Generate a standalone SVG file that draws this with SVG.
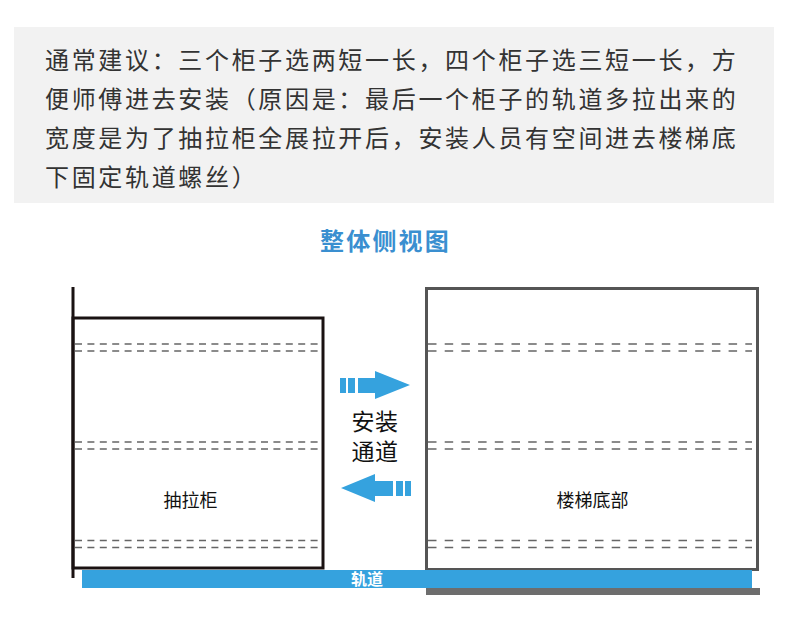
<svg xmlns="http://www.w3.org/2000/svg" width="790" height="632" viewBox="0 0 790 632">
<style>
text{font-family:"Liberation Sans","Noto Sans CJK SC",sans-serif}
.body{font-size:24px;fill:#333;letter-spacing:2.67px}
.title{font-size:24px;fill:#3a8fd0;font-weight:700;letter-spacing:2.2px;text-anchor:middle}
.label{font-size:18px;fill:#111;text-anchor:middle}
.chan{font-size:23px;fill:#111;text-anchor:middle;letter-spacing:0.5px}
.dashl{stroke:#666;stroke-width:1.5;stroke-dasharray:7 5.4;fill:none}
.dashr{stroke:#666;stroke-width:1.5;stroke-dasharray:8.5 8.2;fill:none}
.arrow{fill:#35a2de}
</style>
<defs>
<g id="dashes-l"><path class="dashl" d="M75 0H319M75 7H319"/></g>
<g id="dashes-r"><path class="dashr" d="M428 0H752M428 7H752"/></g>
</defs>
<g id="note">
<rect x="14" y="27" width="760" height="176" fill="#f2f2f2"/>
<text class="body" x="45" y="69">通常建议：三个柜子选两短一长，四个柜子选三短一长，方</text>
<text class="body" x="45" y="108">便师傅进去安装（原因是：最后一个柜子的轨道多拉出来的</text>
<text class="body" x="45" y="147">宽度是为了抽拉柜全展拉开后，安装人员有空间进去楼梯底</text>
<text class="body" x="45" y="186">下固定轨道螺丝）</text>
</g>
<text class="title" x="385.500" y="250">整体侧视图</text>
<g id="drawer">
<rect x="73" y="318" width="250" height="250" fill="#fff" stroke="#1a1212" stroke-width="3"/>
<path d="M73 287V578" stroke="#1a1212" stroke-width="3" fill="none"/>
<use href="#dashes-l" y="344"/>
<use href="#dashes-l" y="442"/>
<use href="#dashes-l" y="540.500"/>
<text class="label" x="190.500" y="506.500">抽拉柜</text>
</g>
<g id="stairs">
<rect x="426.500" y="288.500" width="331" height="281" fill="#fff" stroke="#555" stroke-width="3"/>
<use href="#dashes-r" y="344"/>
<use href="#dashes-r" y="442"/>
<use href="#dashes-r" y="540.500"/>
<text class="label" x="592.500" y="506.500">楼梯底部</text>
</g>
<g id="rail">
<rect x="426" y="588" width="334" height="7" fill="#6d6d6d"/>
<rect x="82" y="570" width="670" height="18" fill="#35a2de"/>
<text x="367" y="585" font-size="16" font-weight="700" fill="#fff" text-anchor="middle">轨道</text>
</g>
<g id="connectors">
<path class="arrow" d="M340 378h6v15h-6zM348 378h7v15h-7zM358 378h17v-7l35 14-35 14v-6h-17z"/>
<path class="arrow" d="M411 481h-6v15h6zM403 481h-7v15h7zM393 481h-18v-7l-34 14 34 14v-6h18z"/>
</g>
<g id="channel">
<text class="chan" x="375" y="430">安装</text>
<text class="chan" x="375" y="460">通道</text>
</g>
</svg>
